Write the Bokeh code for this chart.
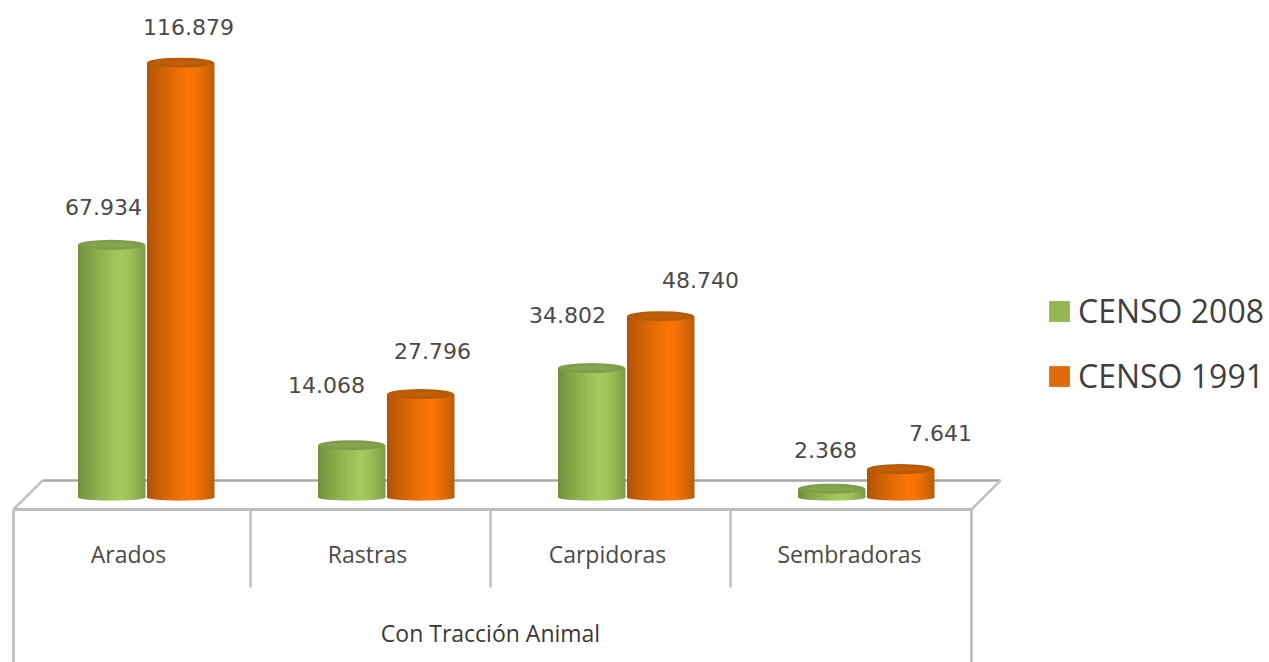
import math
from bokeh.plotting import figure
from bokeh.models import Range1d, LinearScale, ColumnDataSource, Legend, LegendItem
from bokeh.core.properties import value
from bokeh.embed import file_html
from bokeh.resources import INLINE

categories = ["Arados", "Rastras", "Carpidoras", "Sembradoras"]
group_label = "Con Tracción Animal"
censo_2008 = [67934, 14068, 34802, 2368]
censo_1991 = [116879, 27796, 48740, 7641]
series_names = ["CENSO 2008", "CENSO 1991"]

W, H = 1269, 662
# layout calibration, in reference pixels
PX_LEFT, PX_TOP = 0, 0
CAT0, CAT_STEP = 145.5, 240.0
BASE_Y, PX_PER_UNIT = 497.0, 0.00372

def xr(px):
    return (px - CAT0) / CAT_STEP
def yr(px):
    return (BASE_Y - px) / PX_PER_UNIT

p = figure(width=W, height=H, output_backend="svg", toolbar_location=None,
           x_range=Range1d(xr(PX_LEFT), xr(PX_LEFT + W)),
           y_range=Range1d(yr(PX_TOP + H), yr(PX_TOP)),
           min_border=0, outline_line_color=None)
p.axis.visible = False
p.grid.visible = False
p.extra_x_ranges = {"px": Range1d(PX_LEFT, PX_LEFT + W)}
p.extra_y_ranges = {"px": Range1d(PX_TOP + H, PX_TOP)}
p.extra_x_scales = {"px": LinearScale()}
p.extra_y_scales = {"px": LinearScale()}

# platform and table frame
def seg(xs, ys, color="#bcbcbc", w=3):
    p.line(xs, ys, line_color=color, line_width=w, x_range_name="px", y_range_name="px")

seg([42, 1000], [480, 480], "#a8a8a8", 2.5)
seg([13, 42], [509, 480], "#c2c2c2", 2.5)
seg([971, 1000], [509, 480], "#c2c2c2", 2.5)
seg([13, 971], [509, 509], "#bdbdbd", 3)
seg([13, 13], [509, 662], "#c4c4c4", 3)
seg([971, 971], [509, 662], "#b8b8b8", 2.5)
for dx in (250, 490, 730):
    seg([dx, dx], [509, 587], "#c0c0c0", 2.5)

# cylinders
BAR_W = 67 / CAT_STEP
OFF = 34.5 / CAT_STEP
CAP_H = 5.0 / PX_PER_UNIT   # half height of the top ellipse
FOOT_H = 3.0 / PX_PER_UNIT  # depth of the rounded foot
N = 48

def lerp(a, b, t):
    return tuple(a[i] + (b[i] - a[i]) * t for i in range(3))
def hexc(c):
    return "#%02x%02x%02x" % tuple(int(round(v)) for v in c)

def shade(u, edge, mid, peak):
    # u in [-1, 1] across the cylinder; brightest right of the middle
    t = (u + 1) / 2
    if t < 0.62:
        return hexc(lerp(edge, peak, (t / 0.62) ** 0.8))
    return hexc(lerp(peak, mid, ((t - 0.62) / 0.38) ** 1.6))

styles = [
    dict(vals=censo_2008, off=-OFF, base="#93b652", edge=(112, 140, 58), mid=(128, 155, 70),
         peak=(166, 202, 92), cap="#7f9e4a", cap2="#8cab52"),
    dict(vals=censo_1991, off=OFF, base="#e06a08", edge=(172, 82, 6), mid=(190, 92, 6),
         peak=(250, 118, 6), cap="#b85a08", cap2="#c96406"),
]

handles = []
for s in styles:
    xc = [i + s["off"] for i in range(len(categories))]
    # the bar itself, over which the shading strips are laid
    src = ColumnDataSource(dict(x=xc, top=s["vals"]))
    r = p.vbar(x="x", top="top", bottom=0, width=BAR_W, source=src,
               fill_color=s["base"], line_color=None)
    handles.append(r)
    for j in range(N):
        u0 = -1 + 2 * j / N
        u1 = -1 + 2 * (j + 1) / N
        um = (u0 + u1) / 2
        depth = FOOT_H * math.sqrt(max(0.0, 1 - um * um))
        p.quad(left=[x + u0 * BAR_W / 2 for x in xc],
               right=[x + u1 * BAR_W / 2 + 0.002 for x in xc],
               bottom=[-depth] * len(xc), top=s["vals"],
               fill_color=shade(um, s["edge"], s["mid"], s["peak"]), line_color=None)
    p.ellipse(x=xc, y=s["vals"], width=BAR_W, height=2 * CAP_H, width_units="data",
              height_units="data", fill_color=s["cap"], line_color=None)
    p.ellipse(x=xc, y=s["vals"], width=BAR_W * 0.72, height=CAP_H * 0.9, width_units="data",
              height_units="data", fill_color=s["cap2"], fill_alpha=0.55, line_color=None)

# value labels
lab_x, lab_y, lab_t, lab_dx, lab_dy = [], [], [], [], []
offsets_2008 = [(-8, -38), (-25, -60), (-24, -53), (-6, -39)]
offsets_1991 = [(8, -36), (12, -43), (40, -36), (40, -36)]
for s, offs in zip(styles, (offsets_2008, offsets_1991)):
    for i, v in enumerate(s["vals"]):
        lab_x.append(i + s["off"])
        lab_y.append(v)
        lab_t.append(f"{v:,}".replace(",", "."))
        lab_dx.append(offs[i][0])
        lab_dy.append(offs[i][1])
p.text(x="x", y="y", text="t", x_offset="dx", y_offset="dy",
       source=ColumnDataSource(dict(x=lab_x, y=lab_y, t=lab_t, dx=lab_dx, dy=lab_dy)),
       text_font=value("DejaVu Sans"), text_font_size="22px", text_color="#4a4a4a",
       text_align="center", text_baseline="middle")

# category labels
p.text(x=[128, 367, 607, 849], y=[553] * 4, text=categories, x_range_name="px", y_range_name="px",
       text_font=value("Open Sans"), text_font_size="23px", text_color="#4a4a4a",
       text_align="center", text_baseline="middle")
p.text(x=[490], y=[632], text=[group_label], x_range_name="px", y_range_name="px",
       text_font=value("Open Sans"), text_font_size="23px", text_color="#3a3a3a",
       text_align="center", text_baseline="middle")

legend = Legend(items=[LegendItem(label=series_names[0], renderers=[handles[0]]),
                       LegendItem(label=series_names[1], renderers=[handles[1]])],
                location=(1046, 265), orientation="vertical",
                glyph_width=26, glyph_height=26, label_standoff=6, spacing=22,
                padding=0, margin=0, border_line_color=None, background_fill_alpha=0,
                label_text_font="Open Sans", label_text_font_size="32px",
                label_text_color="#3f3f3f", label_text_baseline="middle",
                label_height=22)
p.add_layout(legend, "center")

open("out.html", "w").write(file_html(p, INLINE))
